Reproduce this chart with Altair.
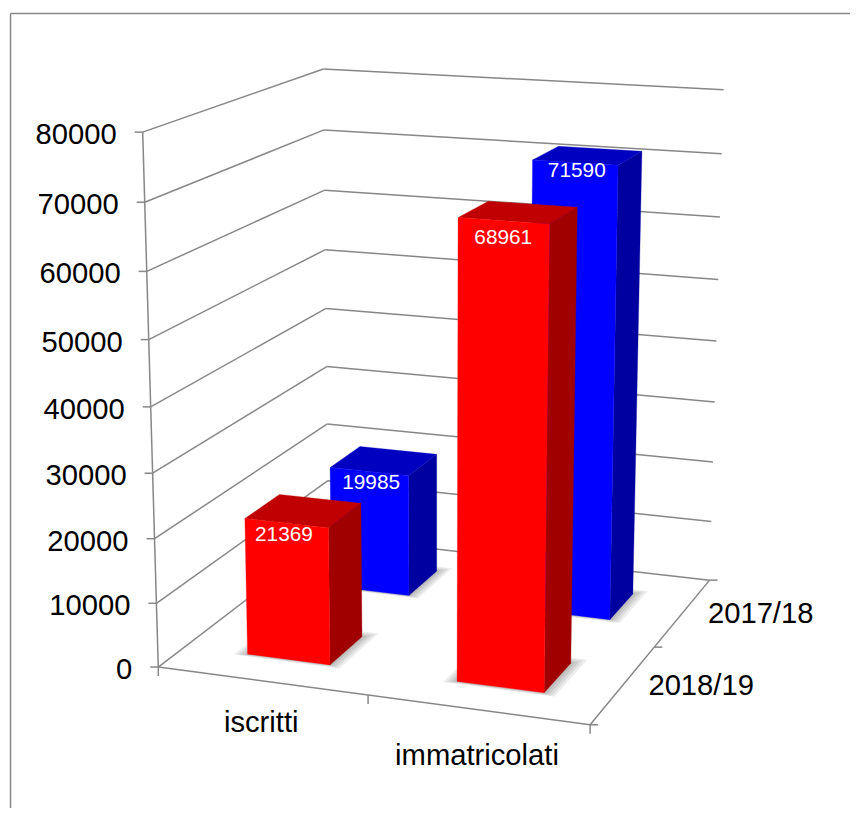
import numpy as np
import pandas as pd
import altair as alt

categories = ["iscritti", "immatricolati"]
series = ["2018/19", "2017/18"]
values = {"2018/19": [21369, 68961], "2017/18": [19985, 71590]}
y_ticks = [0, 10000, 20000, 30000, 40000, 50000, 60000, 70000, 80000]
front_colors = {"2018/19": "#ff0000", "2017/18": "#0000ff"}
top_colors = {"2018/19": "#c00000", "2017/18": "#0000c0"}
side_colors = {"2018/19": "#a00000", "2017/18": "#0000a0"}
VMAX = 80000.0
BAR_HALF_U = 0.10
BAR_HALF_V = 0.097
U_SHIFT = 0.003
V_SHIFT = -0.01
# small hand nudges of the value labels inside the front faces
LABEL_NUDGE = {21369: (-1.5, -1.5), 19985: (3, -2), 68961: (0.7, 3.7), 71590: (2.7, -4.3)}

# camera of the 3-D scene, fitted to the frame of the picture
# (across, depth, height) -> page pixel
refs = [
    (0, 0, 0, 158.5, 667), (1, 0, 0, 590, 725), (1, 1, 0, 709.5, 580), (0, 1, 0, 329, 537),
    (0, 0, 1, 143, 132), (0, 1, 1, 323, 69), (1, 1, 1, 723.7, 90),
    (0, 0, .5, 151, 406.5), (0, 1, .5, 326, 308.5), (1, 1, .5, 716.5, 341),
    (0, 0, .25, 154, 538.7), (0, 1, .25, 327, 424), (1, 1, .25, 713, 462),
    (0, 0, .75, 146.5, 271.7), (0, 1, .75, 325, 190), (1, 1, .75, 720, 217),
]
A, b = [], []
for u, v, w, px, py in refs:
    A.append([u, v, w, 1, 0, 0, 0, 0, -px * u, -px * v, -px * w]); b.append(px)
    A.append([0, 0, 0, 0, u, v, w, 1, -py * u, -py * v, -py * w]); b.append(py)
P = np.linalg.lstsq(np.array(A, float), np.array(b, float), rcond=None)[0]
P = np.append(P, 1.0).reshape(3, 4)


def proj(u, v, w):
    q = P @ np.array([u, v, w, 1.0])
    return float(q[0] / q[2]), float(q[1] / q[2])


segs = []


def seg(a, b, group="frame"):
    segs.append({"x": a[0], "y": a[1], "x2": b[0], "y2": b[1], "group": group})


# border
seg((10.5, 13.5), (850, 13.5), "border")
seg((10.5, 13.5), (10.5, 808), "border")
# walls and axes
for t in y_ticks:
    w = t / VMAX
    l = proj(0, 0, w)
    m = proj(0, 1, w)
    r = proj(1, 1, w)
    seg(l, m)
    seg(m, r)
    seg((l[0] - 8, l[1]), l)
seg(proj(0, 0, 0), proj(0, 0, 1))
f0, f1, f2 = proj(0, 0, 0), proj(1, 0, 0), proj(1, 1, 0)
seg(f0, f1)
seg(f1, f2)
for u in (0, .5, 1):
    p = proj(u, 0, 0)
    seg(p, (p[0], p[1] + 9))
for v in (0, .5, 1):
    p = proj(1, v, 0)
    seg(p, (p[0] + 8, p[1]))
seg_df = pd.DataFrame(segs)

polys = []
shadows = []
pid = 0


def add(rows, pts, color):
    global pid
    pid += 1
    for k, (x, y) in enumerate(list(pts) + [pts[0]]):
        rows.append({"poly": pid, "k": k, "x": x, "y": y, "color": color})


labels = []
for j in (1, 0):
    s = series[j]
    vc = (j + .5) / 2 + V_SHIFT
    v0, v1 = vc - BAR_HALF_V, vc + BAR_HALF_V
    for i, c in enumerate(categories):
        uc = (i + .5) / 2 + U_SHIFT
        u0, u1 = uc - BAR_HALF_U, uc + BAR_HALF_U
        val = values[s][i]
        w = val / VMAX
        for g in (0.028, 0.021, 0.014, 0.007):
            gv = g * 1.2
            add(shadows, [proj(u0 - g, v0 - gv * .4, 0), proj(u1 + g, v0 - gv * .4, 0),
                          proj(u1 + g, v1 + gv, 0), proj(u0 - g, v1 + gv, 0)], "#000")
        add(polys, [proj(u1, v0, 0), proj(u1, v1, 0), proj(u1, v1, w), proj(u1, v0, w)], side_colors[s])
        add(polys, [proj(u0, v0, w), proj(u1, v0, w), proj(u1, v1, w), proj(u0, v1, w)], top_colors[s])
        add(polys, [proj(u0, v0, 0), proj(u1, v0, 0), proj(u1, v0, w), proj(u0, v0, w)], front_colors[s])
        x, y = proj(uc, v0, w)
        nx, ny = LABEL_NUDGE[val]
        labels.append({"x": x - 1 + nx, "y": y + 13 + ny, "t": str(val)})
poly_df = pd.DataFrame(polys)
shadow_df = pd.DataFrame(shadows)
label_df = pd.DataFrame(labels)

axis_txt = []
for t in y_ticks:
    x, y = proj(0, 0, t / VMAX)
    axis_txt.append({"x": x - 26, "y": y + 3, "t": str(t), "a": "right"})
for i, c in enumerate(categories):
    x, y = proj((i + .5) / 2, 0, 0)
    axis_txt.append({"x": x - 0.5, "y": y + 42 + 4 * i, "t": c, "a": "center"})
for j, s in enumerate(series):
    x, y = proj(1, (j + .5) / 2, 0)
    axis_txt.append({"x": x + 25, "y": y + 1.5, "t": s, "a": "left"})
axis_df = pd.DataFrame(axis_txt)

X = alt.X("x:Q", scale=alt.Scale(domain=[8, 850], nice=False, zero=False), axis=None)
Y = alt.Y("y:Q", scale=alt.Scale(domain=[808, 8], nice=False, zero=False), axis=None)

rules = alt.Chart(seg_df).mark_rule(color="#878787", strokeWidth=1.5).encode(X, Y, x2="x2:Q", y2="y2:Q")
shadow = alt.Chart(shadow_df).mark_line(fill="#000000", fillOpacity=0.07, strokeWidth=0, clip=False).encode(
    X, Y, detail="poly:N", order="k:Q")
bars = alt.Chart(poly_df).mark_line(strokeWidth=0.3).encode(
    X, Y, detail="poly:N", order="k:Q",
    fill=alt.Fill("color:N", scale=None), stroke=alt.Stroke("color:N", scale=None))
FS = 29.2
txt_r = alt.Chart(axis_df[axis_df.a == "right"]).mark_text(font="Liberation Sans", fontSize=FS, align="right", baseline="middle", color="#000").encode(X, Y, text="t:N")
txt_c = alt.Chart(axis_df[axis_df.a == "center"]).mark_text(font="Liberation Sans", fontSize=FS, align="center", baseline="middle", color="#000").encode(X, Y, text="t:N")
txt_l = alt.Chart(axis_df[axis_df.a == "left"]).mark_text(font="Liberation Sans", fontSize=FS, align="left", baseline="middle", color="#000").encode(X, Y, text="t:N")
lab = alt.Chart(label_df).mark_text(font="Liberation Sans", fontSize=20.8, align="center", baseline="middle", color="#fff").encode(X, Y, text="t:N")

chart = alt.layer(rules, shadow, bars, txt_r, txt_c, txt_l, lab).properties(
    width=842, height=800, padding=0, autosize=alt.AutoSizeParams(type="none")
).configure_view(stroke=None)
chart.save("out.html", embed_options={"renderer": "svg", "actions": False})
